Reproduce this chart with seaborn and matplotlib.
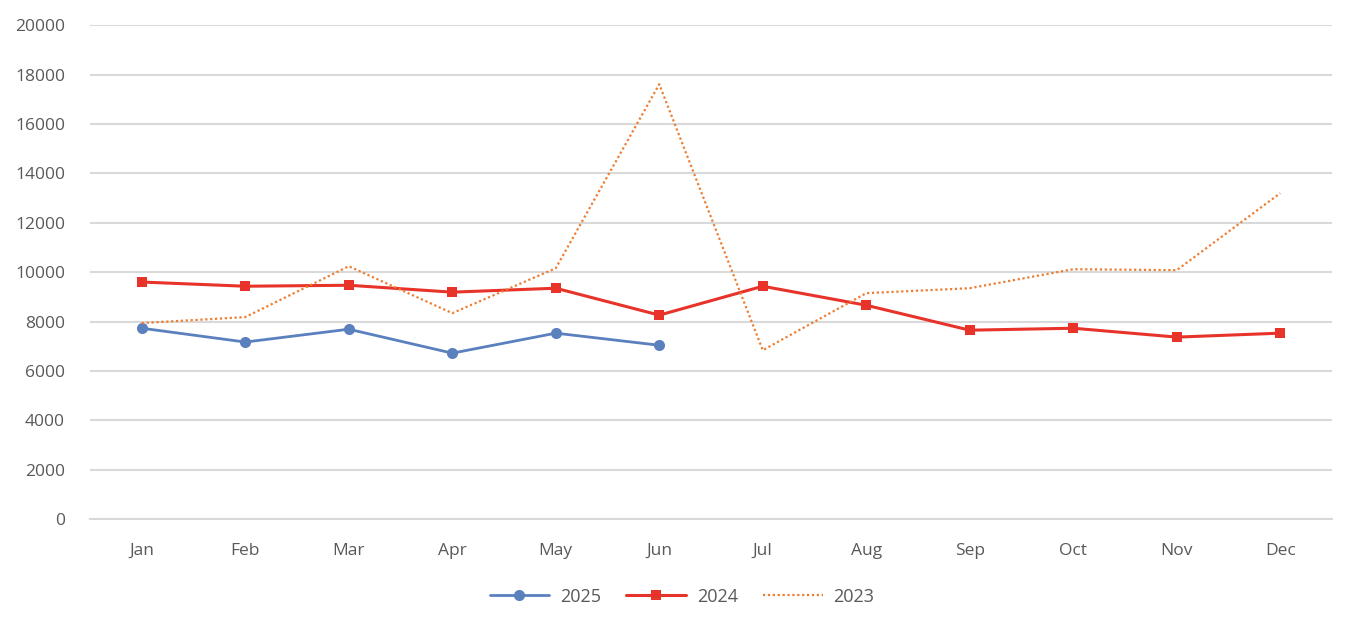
import pandas as pd
import matplotlib.pyplot as plt
import seaborn as sns
import numpy as np

# ============================================================================
# DATA
# ============================================================================
months = ['Jan', 'Feb', 'Mar', 'Apr', 'May', 'Jun',
          'Jul', 'Aug', 'Sep', 'Oct', 'Nov', 'Dec']
values_2025 = [7730, 7170, 7690, 6720, 7530, 7040]
values_2024 = [9600, 9430, 9470, 9190, 9350, 8260,
               9430, 8660, 7650, 7730, 7370, 7530]
values_2023 = [7940, 8180, 10240, 8340, 10160, 17610,
               6840, 9150, 9350, 10120, 10080, 13200]
y_ticks = list(range(0, 20001, 2000))

COLORS = {'2025': '#5A80BE', '2024': '#E8332A', '2023': '#ED7D31'}
TEXT_COLOR = '#595959'

sns.set_theme(style='white')
plt.rcParams['font.family'] = ['Open Sans', 'DejaVu Sans']

fig = plt.figure(figsize=(13.56, 6.3), dpi=100)
ax = fig.add_axes([0.0664, 0.176, 0.9159, 0.784])

x_all = np.arange(len(months))

sns.lineplot(x=x_all[:len(values_2025)], y=values_2025, ax=ax, color=COLORS['2025'],
             linewidth=2, marker='o', markersize=8, markeredgewidth=0, label='2025')
sns.lineplot(x=x_all, y=values_2024, ax=ax, color=COLORS['2024'],
             linewidth=2.2, marker='s', markersize=7, markeredgewidth=0, label='2024')
sns.lineplot(x=x_all, y=values_2023, ax=ax, color=COLORS['2023'],
             linewidth=1.6, linestyle=(0, (1, 1.2)), label='2023')

ax.set_xlim(-0.5, len(months) - 0.5)
ax.set_ylim(0, 20000)
ax.set_xticks(x_all)
ax.set_xticklabels(months)
ax.set_yticks(y_ticks)
ax.set_yticklabels([str(t) for t in y_ticks])
ax.tick_params(axis='both', length=0, labelsize=12.5, colors=TEXT_COLOR)
ax.tick_params(axis='x', pad=17)
ax.tick_params(axis='y', pad=18)
ax.yaxis.grid(True, color='#D9D9D9', linewidth=1.5)
ax.set_axisbelow(True)
for s in ['top', 'right', 'left']:
    ax.spines[s].set_visible(False)
ax.spines['bottom'].set_color('#D9D9D9')
ax.spines['bottom'].set_linewidth(1.5)
ax.set_xlabel('')
ax.set_ylabel('')

handles, labels = ax.get_legend_handles_labels()
ax.get_legend().remove()
fig.legend(handles, labels, loc='center', bbox_to_anchor=(0.503, 0.053), ncol=3,
           frameon=False, fontsize=13, handlelength=3.3, columnspacing=1.4,
           handletextpad=0.6, labelcolor=TEXT_COLOR)

plt.savefig('out.png', dpi=100, facecolor='white')
plt.close()
